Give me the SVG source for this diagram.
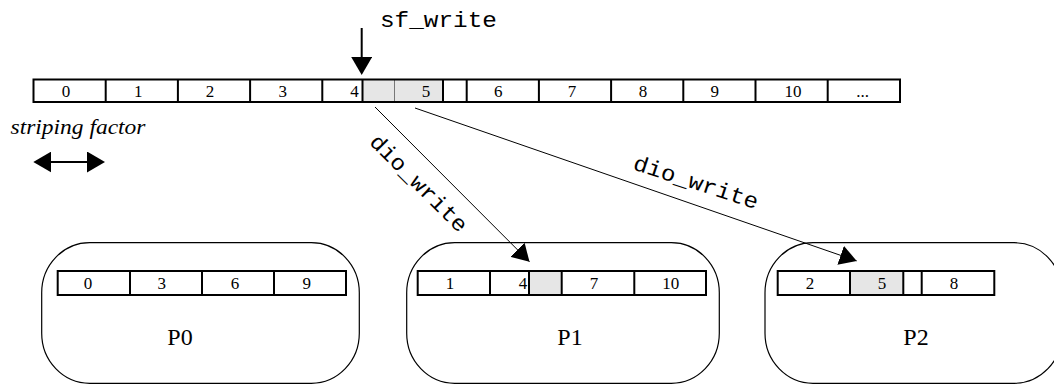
<svg xmlns="http://www.w3.org/2000/svg" width="1054" height="385" viewBox="0 0 1054 385">
<style>
.div{stroke:#000;stroke-width:2;fill:none}
.hl{fill:#e6e6e6;stroke:none}
.num{font-family:"Liberation Serif","Times New Roman",serif;font-size:17px;text-anchor:middle;fill:#000}
.num-end{font-family:"Liberation Serif","Times New Roman",serif;font-size:17px;text-anchor:end;fill:#000}
.proc{fill:#fff;stroke:#000;stroke-width:1.2}
.plabel{font-family:"Liberation Serif","Times New Roman",serif;font-size:24px;text-anchor:middle;fill:#000}
.mono{font-family:"Liberation Mono","Courier New",monospace;font-size:22px;fill:#000}
.ital{font-family:"Liberation Serif","Times New Roman",serif;font-style:italic;font-size:22px;fill:#000}
.thick{stroke:#000;stroke-width:2;fill:none}
.thin{stroke:#000;stroke-width:1;fill:none}
</style>
<defs>
<marker id="ahBig" viewBox="0 0 18 21" refX="14" refY="10.5" markerWidth="18" markerHeight="21" markerUnits="userSpaceOnUse" orient="auto-start-reverse">
<path d="M0,0 L18,10.5 L0,21 z" fill="#000"/>
</marker>
<marker id="ahSmall" viewBox="0 0 17 20" refX="17" refY="10" markerWidth="17" markerHeight="20" markerUnits="userSpaceOnUse" orient="auto">
<path d="M0,0 L17,10 L0,20 z" fill="#000"/>
</marker>
</defs>

<g id="file-stripe">
<rect x="33.5" y="79.5" width="866.5" height="22.5" fill="#fff"/>
<rect class="hl" x="362.5" y="80" width="80.5" height="21.5"/>
<line x1="394.5" y1="80" x2="394.5" y2="101.5" stroke="#777" stroke-width="1"/>
<path class="div" d="M105.7,79.5V102M177.9,79.5V102M250.1,79.5V102M322.3,79.5V102M362.5,79.5V102M443,79.5V102M466.7,79.5V102M538.9,79.5V102M611.1,79.5V102M683.3,79.5V102M755.5,79.5V102M827.7,79.5V102"/>
<rect x="33.5" y="79.5" width="866.5" height="22.5" fill="none" stroke="#000" stroke-width="2"/>
<text class="num" x="66" y="96.5">0</text>
<text class="num" x="138.3" y="96.5">1</text>
<text class="num" x="210" y="96.5">2</text>
<text class="num" x="282.7" y="96.5">3</text>
<text class="num-end" x="358.8" y="96.5">4</text>
<text class="num" x="426" y="96.5">5</text>
<text class="num" x="498.3" y="96.5">6</text>
<text class="num" x="571.9" y="96.5">7</text>
<text class="num" x="643" y="96.5">8</text>
<text class="num" x="714.8" y="96.5">9</text>
<text class="num" x="793" y="96.5">10</text>
<text class="num" x="862.6" y="96.5">...</text>
</g>

<g id="striping-factor">
<text class="ital" x="10.5" y="133.5" textLength="135" lengthAdjust="spacingAndGlyphs">striping factor</text>
</g>

<g id="sf-write-label">
<text class="mono" x="380" y="27" textLength="117" lengthAdjust="spacingAndGlyphs">sf_write</text>
</g>

<g id="P0">
<rect class="proc" x="41.7" y="242.7" width="317.6" height="140.6" rx="48" ry="50"/>
<rect x="57.7" y="271" width="288.3" height="24" fill="#fff"/>
<path class="div" d="M130,271V295M202,271V295M274,271V295"/>
<rect x="57.7" y="271" width="288.3" height="24" fill="none" stroke="#000" stroke-width="2"/>
<text class="num" x="88" y="288.5">0</text>
<text class="num" x="161.7" y="288.5">3</text>
<text class="num" x="235" y="288.5">6</text>
<text class="num" x="306.7" y="288.5">9</text>
<text class="plabel" x="180" y="345">P0</text>
</g>

<g id="P1">
<rect class="proc" x="406.7" y="242.7" width="312.6" height="140.6" rx="48" ry="50"/>
<rect x="417.7" y="271" width="288.3" height="24" fill="#fff"/>
<rect class="hl" x="529" y="272" width="32.7" height="22"/>
<path class="div" d="M490,271V295M529,271V295M561.7,271V295M634.3,271V295"/>
<rect x="417.7" y="271" width="288.3" height="24" fill="none" stroke="#000" stroke-width="2"/>
<text class="num" x="450" y="288.5">1</text>
<text class="num-end" x="527.3" y="288.5">4</text>
<text class="num" x="594" y="288.5">7</text>
<text class="num" x="670.7" y="288.5">10</text>
<text class="plabel" x="570" y="345">P1</text>
</g>

<g id="P2">
<rect class="proc" x="765" y="242.7" width="297" height="140.6" rx="48" ry="50"/>
<rect x="777.7" y="271" width="216.6" height="24" fill="#fff"/>
<rect class="hl" x="850" y="272" width="53.3" height="22"/>
<path class="div" d="M850,271V295M903.3,271V295M921.7,271V295"/>
<rect x="777.7" y="271" width="216.6" height="24" fill="none" stroke="#000" stroke-width="2"/>
<text class="num" x="810" y="288.5">2</text>
<text class="num" x="882" y="288.5">5</text>
<text class="num" x="954" y="288.5">8</text>
<text class="plabel" x="916" y="345">P2</text>
</g>

<g id="connectors">
<line class="thick" x1="361.7" y1="28" x2="361.7" y2="71" marker-end="url(#ahBig)"/>
<line class="thick" x1="37.3" y1="162" x2="101" y2="162" marker-start="url(#ahBig)" marker-end="url(#ahBig)"/>
<line class="thin" x1="375" y1="107" x2="529.5" y2="261.8" marker-end="url(#ahSmall)"/>
<line class="thin" x1="415" y1="108" x2="856.7" y2="260.9" marker-end="url(#ahSmall)"/>
<text class="mono" transform="translate(368.5,143) rotate(45)" textLength="128" lengthAdjust="spacingAndGlyphs">dio_write</text>
<text class="mono" transform="translate(632,169) rotate(18)" textLength="130" lengthAdjust="spacingAndGlyphs">dio_write</text>
</g>
</svg>
